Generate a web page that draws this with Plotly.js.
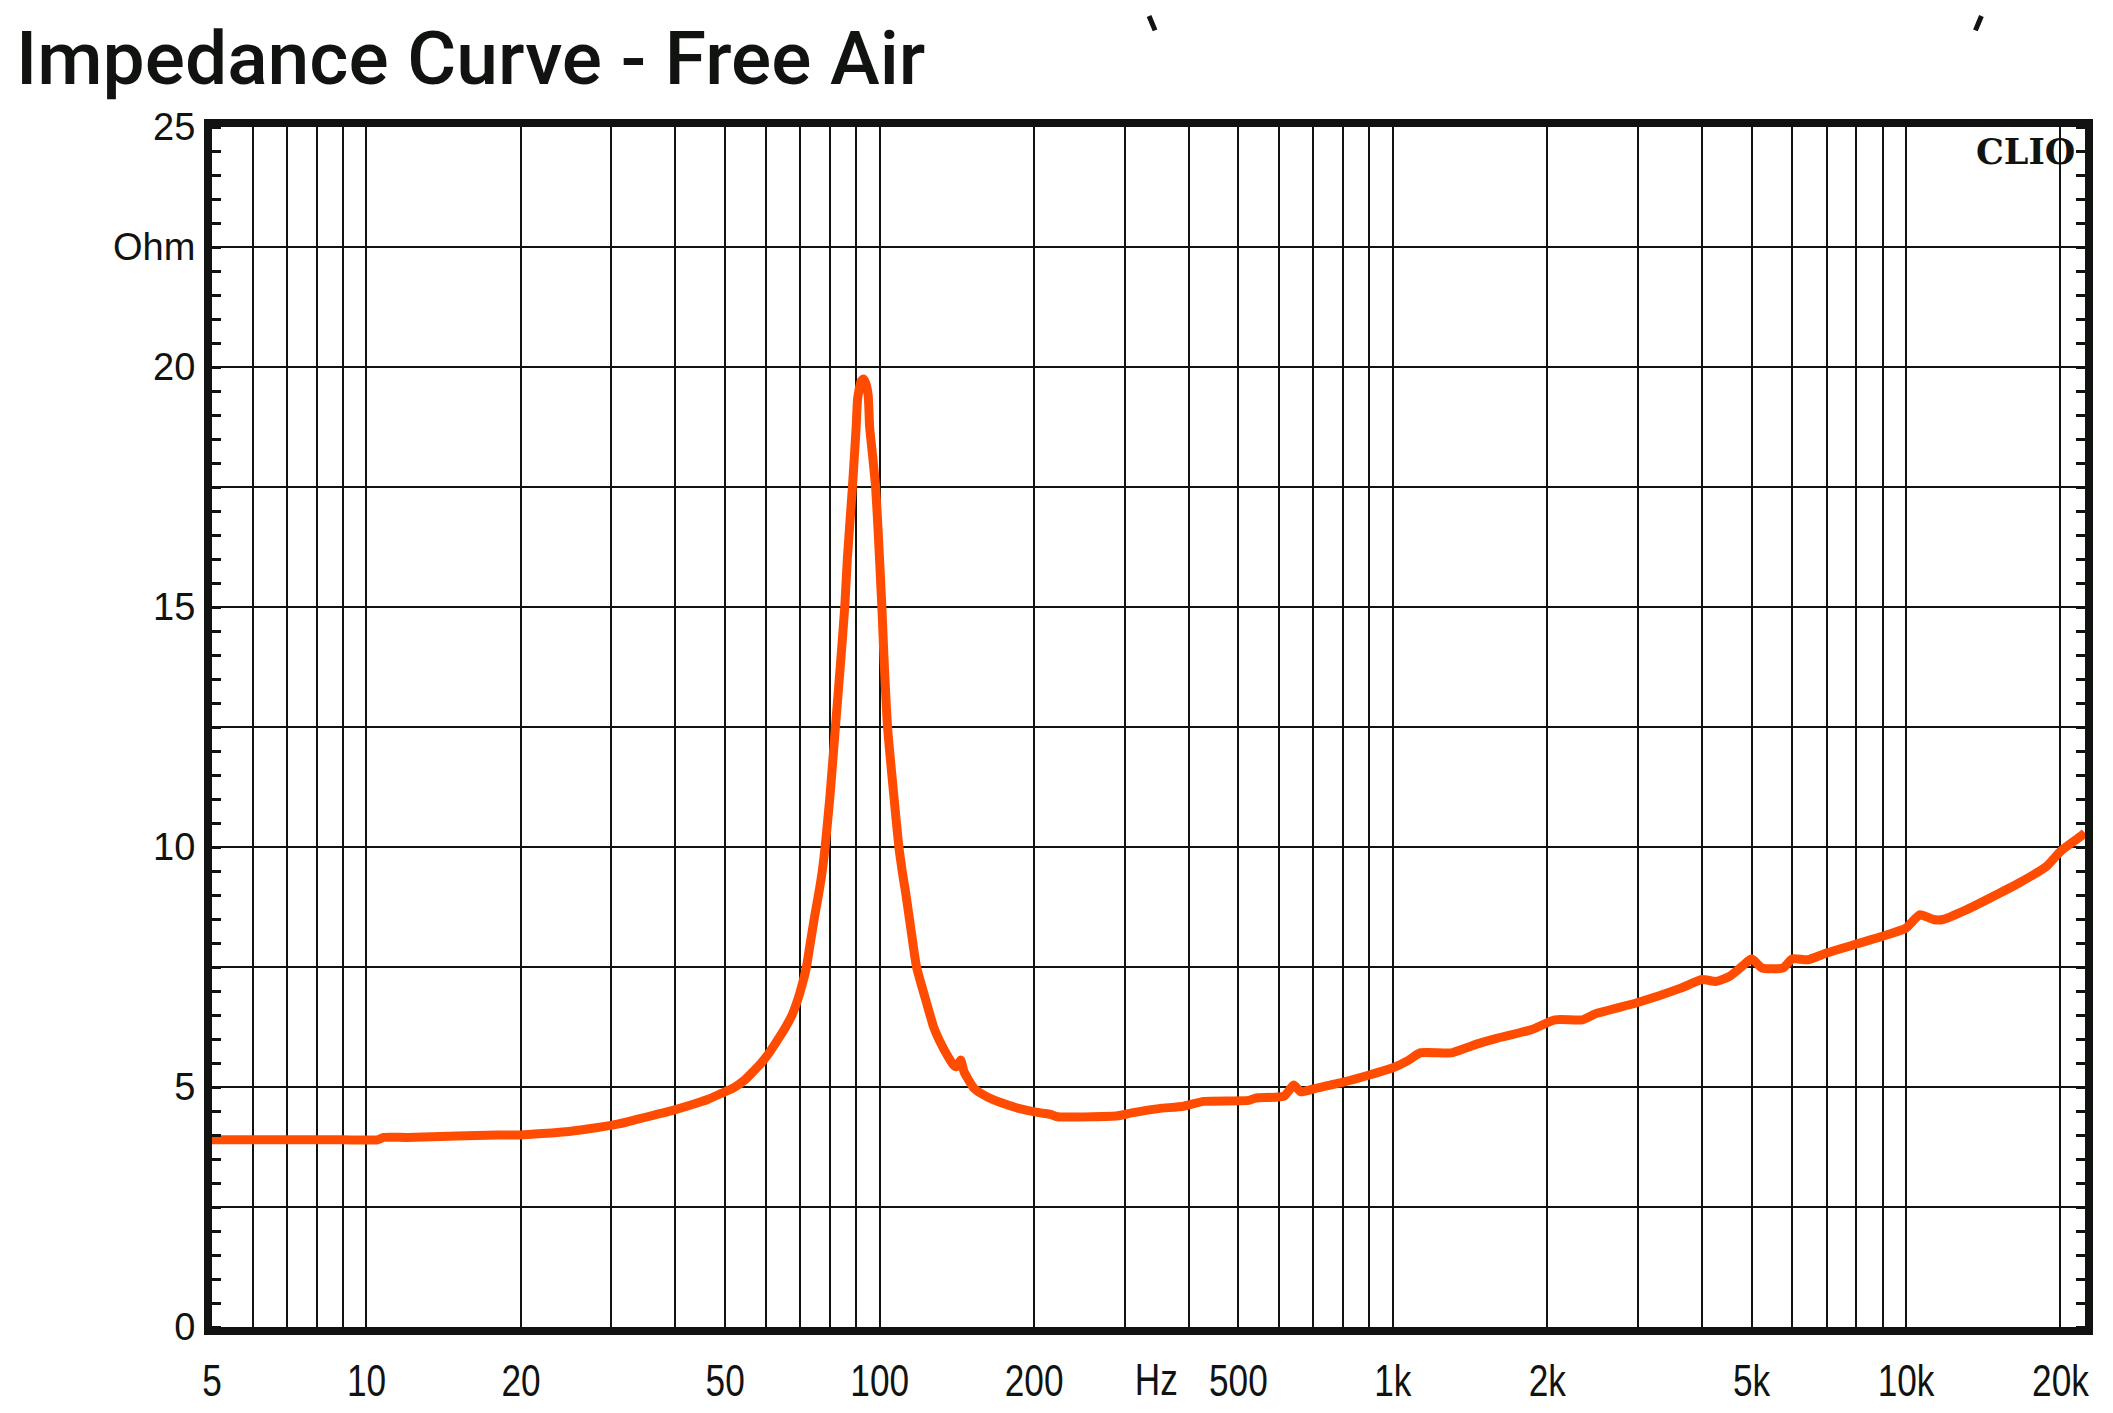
<!DOCTYPE html>
<html>
<head>
<meta charset="utf-8">
<script src="https://cdn.plot.ly/plotly-3.0.1.min.js"></script>
<style>
  html, body { margin: 0; padding: 0; background: #fff; }
  #chart { width: 2113px; height: 1413px; }
</style>
</head>
<body>
<div id="chart"></div>
<script>
// impedance curve (Hz / Ohm)
const freqHz = [
  5, 6, 7, 8, 9, 10.5, 10.8, 12, 15, 18, 20, 22, 25, 28, 31, 33.8, 36.5, 39.7,
  43, 46.2, 49, 51.9, 54.5, 56.8, 58.8, 60.8, 63, 65.6, 67.5, 69.2, 70.7, 72,
  73, 74.1, 75.1, 76.1, 77.3, 78.3, 80, 82, 84, 85.5, 86.5, 88.5, 90, 90.6,
  92, 93, 94, 95, 95.6, 97, 98.2, 99.3, 101, 102, 103.6, 106.5, 109, 111,
  112.4, 114.9, 118, 123, 127.4, 131, 135.6, 139, 141, 143.9, 146, 152.5, 158,
  166.8, 175, 185.7, 206, 215, 222, 260, 291, 310, 350, 391, 428, 524, 540,
  614, 641, 662, 700, 800, 900, 1000, 1070, 1130, 1297, 1400, 1483, 1600,
  1858, 2070, 2340, 2490, 3000, 3640, 4000, 4270, 4540, 4800, 5000, 5240,
  5760, 6000, 6430, 7000, 8000, 9000, 10000, 10300, 10650, 11300, 11800,
  13100, 14600, 16600, 18800, 20000, 22000, 22300
];
const impedanceOhm = [
  3.9, 3.9, 3.9, 3.9, 3.9, 3.9, 3.95, 3.95, 3.98, 4.0, 4.0, 4.03, 4.08, 4.15, 4.23, 4.33, 4.42, 4.52,
  4.63, 4.74, 4.86, 4.98, 5.14, 5.33, 5.5, 5.7, 5.95, 6.25, 6.5, 6.81, 7.15, 7.5,
  7.9, 8.33, 8.7, 9.04, 9.5, 10.0, 11.05, 12.5, 13.9, 15, 16, 17.5, 18.75, 19.35,
  19.7, 19.75, 19.65, 19.4, 18.75, 18.1, 17.5, 16.6, 15, 13.9, 12.5, 11.1, 10, 9.4,
  9.04, 8.33, 7.5, 6.81, 6.25, 5.95, 5.65, 5.47, 5.42, 5.56, 5.32, 4.98, 4.86,
  4.73, 4.65, 4.56, 4.46, 4.43, 4.38, 4.38, 4.4, 4.46, 4.55, 4.6, 4.7, 4.72, 4.77,
  4.81, 5.04, 4.9, 4.96, 5.1, 5.25, 5.4, 5.55, 5.71, 5.71, 5.83, 5.92, 6.02,
  6.19, 6.4, 6.4, 6.53, 6.76, 7.06, 7.24, 7.2, 7.31, 7.52, 7.67, 7.48,
  7.48, 7.67, 7.65, 7.79, 7.98, 8.14, 8.31, 8.45, 8.59, 8.49, 8.49,
  8.69, 8.94, 9.25, 9.6, 9.91, 10.24, 10.3
];

// grid / tick labels
const xTickVals = [5, 6, 7, 8, 9, 10, 20, 30, 40, 50, 60, 70, 80, 90, 100, 200, 300, 400, 500,
  600, 700, 800, 900, 1000, 2000, 3000, 4000, 5000, 6000, 7000, 8000, 9000, 10000, 20000];
const xTickText = ["5", "", "", "", "", "10", "20", "", "", "50", "", "", "", "", "100", "200", "", "", "500",
  "", "", "", "", "1k", "2k", "", "", "5k", "", "", "", "", "10k", "20k"];
const unitTickVals = [346];
const unitTickText = ["Hz"];
const yTickVals = [0, 2.5, 5, 7.5, 10, 12.5, 15, 17.5, 20, 22.5, 25];
const yTickText = ["0", "", "5", "", "10", "", "15", "", "20", "Ohm", "25"];

const INK = "#111311";
const CURVE = "#ff4c00";
const X_RANGE = [Math.log10(5), 4.3488];
const X_FONT = { family: "Liberation Sans, Arial, sans-serif", size: 44, color: INK };

const traces = [
  {
    x: freqHz,
    y: impedanceOhm,
    type: "scatter",
    mode: "lines",
    line: { color: CURVE, width: 9, shape: "spline", smoothing: 0.5 },
  },
  // empty trace so the unit axis gets drawn
  { x: [], y: [], xaxis: "x2", type: "scatter", mode: "lines", showlegend: false },
];

const layout = {
  width: 2113,
  height: 1413,
  margin: { l: 212, r: 28, t: 127, b: 86 },
  paper_bgcolor: "#fff",
  plot_bgcolor: "#fff",
  showlegend: false,
  font: { family: "Liberation Sans, Arial, sans-serif", color: INK },
  title: {
    text: "Impedance Curve - Free Air",
    font: { family: "Roboto, Liberation Sans, sans-serif", size: 75, weight: 500, color: INK },
    xref: "container", x: 16 / 2113, xanchor: "left",
    yref: "container", y: 1 - 58 / 1413, yanchor: "middle",
  },
  xaxis: {
    type: "log",
    range: X_RANGE,
    tickmode: "array",
    tickvals: xTickVals,
    ticktext: xTickText,
    ticks: "",
    showgrid: true,
    gridcolor: INK,
    gridwidth: 2,
    showline: true,
    linecolor: INK,
    linewidth: 8,
    mirror: true,
    zeroline: false,
    ticklabelstandoff: 8,
    tickfont: X_FONT,
  },
  xaxis2: {
    type: "log",
    range: X_RANGE,
    overlaying: "x",
    side: "bottom",
    anchor: "y",
    tickmode: "array",
    tickvals: unitTickVals,
    ticktext: unitTickText,
    ticks: "",
    showgrid: false,
    showline: false,
    zeroline: false,
    ticklabelstandoff: 23,
    tickfont: X_FONT,
  },
  yaxis: {
    range: [0, 25],
    tickmode: "array",
    tickvals: yTickVals,
    ticktext: yTickText,
    ticks: "",
    showgrid: true,
    gridcolor: INK,
    gridwidth: 2,
    showline: true,
    linecolor: INK,
    linewidth: 8,
    mirror: "allticks",
    zeroline: false,
    ticklabelstandoff: 1,
    tickfont: { family: "Liberation Sans, Arial, sans-serif", size: 38, color: INK },
    minor: {
      tickmode: "linear", tick0: 0, dtick: 0.5,
      ticks: "inside", ticklen: 9, tickwidth: 3, tickcolor: INK, showgrid: false,
    },
  },
  annotations: [
    {
      text: "CLIO",
      xref: "paper", yref: "paper", x: 1, y: 1,
      xanchor: "right", yanchor: "top", xshift: -8, yshift: -2,
      showarrow: false,
      font: { family: "DejaVu Serif, Liberation Serif, serif", size: 35, weight: 700, color: INK },
    },
  ],
  // cut-off glyph remnants at the very top of the picture
  shapes: [
    { type: "line", xref: "paper", yref: "paper", x0: 0.5003, y0: 1.0925, x1: 0.5035, y1: 1.0805,
      line: { color: INK, width: 5 } },
    { type: "line", xref: "paper", yref: "paper", x0: 0.9447, y0: 1.0925, x1: 0.9415, y1: 1.0805,
      line: { color: INK, width: 5 } },
  ],
};

// frequency labels are set in a narrow face on the original: squeeze them
function narrowLabels() {
  document.querySelectorAll(".xtick text, .x2tick text").forEach((t) => {
    const x = Number(t.getAttribute("x")) || 0;
    const tr = t.getAttribute("transform") || "";
    t.setAttribute("transform", tr + " translate(" + x + " 0) scale(0.8 1) translate(" + (-x) + " 0)");
  });
}

Plotly.newPlot("chart", traces, layout, { displayModeBar: false, staticPlot: true }).then(narrowLabels);
</script>
</body>
</html>
